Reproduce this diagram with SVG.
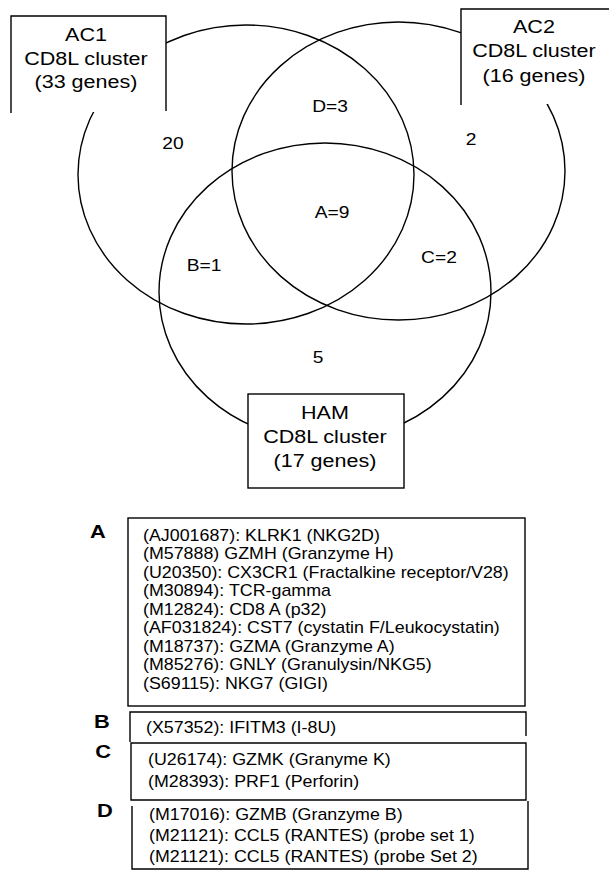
<svg xmlns="http://www.w3.org/2000/svg" width="609" height="872" viewBox="0 0 609 872">
<style>
.ln{fill:none;stroke:#000;stroke-width:1.4}
.wb{fill:#fff;stroke:none}
text{font-family:"Liberation Sans",Arial,sans-serif;fill:#000}
.lbl{font-size:17.5px;text-anchor:middle}
.num{font-size:16px;text-anchor:middle}
.let{font-size:19px;font-weight:bold;text-anchor:middle}
.lst{font-size:16px}
</style>
<rect width="609" height="872" fill="#fff"/>
<g id="connectors">
  <ellipse class="ln" cx="246" cy="174.5" rx="168" ry="149.5"/>
  <ellipse class="ln" cx="398.5" cy="171" rx="166.5" ry="149"/>
  <ellipse class="ln" cx="325" cy="292" rx="166" ry="149"/>
</g>
<g id="ac1">
  <rect class="wb" x="11" y="16" width="155" height="96"/>
  <path class="ln" d="M11,113 V16 H166 V111"/>
  <g transform="scale(1.23,1)">
    <text class="lbl" x="69.9" y="41">AC1</text>
    <text class="lbl" x="69.9" y="65">CD8L cluster</text>
    <text class="lbl" x="69.9" y="88">(33 genes)</text>
  </g>
</g>
<g id="ac2">
  <rect class="wb" x="461" y="9" width="160" height="95"/>
  <path class="ln" d="M461,105 V9 H610"/>
  <g transform="scale(1.23,1)">
    <text class="lbl" x="434.1" y="33">AC2</text>
    <text class="lbl" x="434.1" y="57">CD8L cluster</text>
    <text class="lbl" x="434.1" y="82">(16 genes)</text>
  </g>
</g>
<g id="ham">
  <rect class="wb" x="248" y="394" width="156" height="94"/>
  <rect class="ln" x="248" y="394" width="156" height="94"/>
  <g transform="scale(1.23,1)">
    <text class="lbl" x="264.2" y="419">HAM</text>
    <text class="lbl" x="264.2" y="443">CD8L cluster</text>
    <text class="lbl" x="264.2" y="467">(17 genes)</text>
  </g>
</g>
<g id="counts" transform="scale(1.2,1)">
  <text class="num" x="144.2" y="149">20</text>
  <text class="num" x="392.5" y="145">2</text>
  <text class="num" x="275" y="112">D=3</text>
  <text class="num" x="276.7" y="218">A=9</text>
  <text class="num" x="170" y="271">B=1</text>
  <text class="num" x="365.8" y="263">C=2</text>
  <text class="num" x="265" y="363">5</text>
</g>
<g id="list-a">
  <rect class="ln" x="128" y="518" width="397" height="188"/>
  <g transform="scale(1.15,1)"><text class="let" x="85.2" y="538">A</text></g>
  <g transform="scale(1.115,1)">
    <text class="lst" x="128.25" y="541">(AJ001687): KLRK1 (NKG2D)</text>
    <text class="lst" x="128.25" y="559.5">(M57888) GZMH (Granzyme H)</text>
    <text class="lst" x="128.25" y="578">(U20350): CX3CR1 (Fractalkine receptor/V28)</text>
    <text class="lst" x="128.25" y="596.5">(M30894): TCR-gamma</text>
    <text class="lst" x="128.25" y="615">(M12824): CD8 A (p32)</text>
    <text class="lst" x="128.25" y="633.5">(AF031824): CST7 (cystatin F/Leukocystatin)</text>
    <text class="lst" x="128.25" y="652">(M18737): GZMA (Granzyme A)</text>
    <text class="lst" x="128.25" y="670.5">(M85276): GNLY (Granulysin/NKG5)</text>
    <text class="lst" x="128.25" y="689">(S69115): NKG7 (GIGI)</text>
  </g>
</g>
<g id="list-b">
  <path class="ln" d="M130,742 V712 H526 V736"/>
  <g transform="scale(1.15,1)"><text class="let" x="88.7" y="728">B</text></g>
  <g transform="scale(1.115,1)">
    <text class="lst" x="130.94" y="733">(X57352): IFITM3 (I-8U)</text>
  </g>
</g>
<g id="list-c">
  <path class="ln" d="M131,743 H526 V800 H131 Z"/>
  <g transform="scale(1.15,1)"><text class="let" x="89.6" y="758">C</text></g>
  <g transform="scale(1.115,1)">
    <text class="lst" x="132.74" y="765">(U26174): GZMK (Granyme K)</text>
    <text class="lst" x="132.74" y="787">(M28393): PRF1 (Perforin)</text>
  </g>
</g>
<g id="list-d">
  <path class="ln" d="M132,806 V869 H528 V801"/>
  <g transform="scale(1.15,1)"><text class="let" x="91.3" y="817">D</text></g>
  <g transform="scale(1.115,1)">
    <text class="lst" x="133.63" y="820">(M17016): GZMB (Granzyme B)</text>
    <text class="lst" x="133.63" y="841">(M21121): CCL5 (RANTES) (probe set 1)</text>
    <text class="lst" x="133.63" y="862">(M21121): CCL5 (RANTES) (probe Set 2)</text>
  </g>
</g>
</svg>
